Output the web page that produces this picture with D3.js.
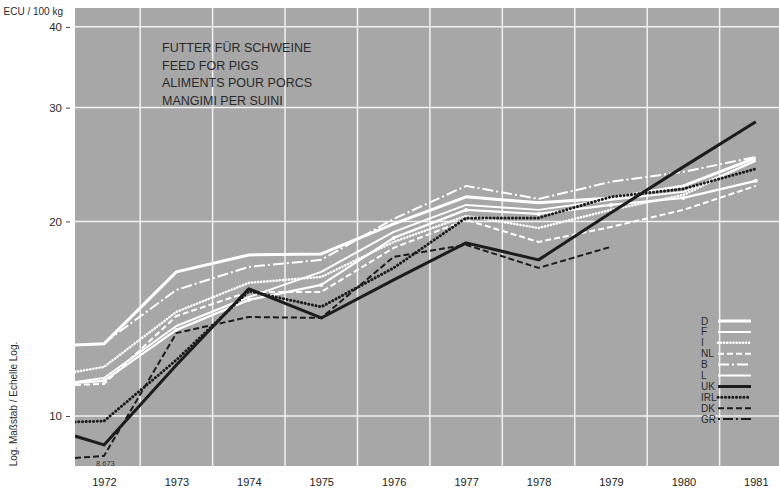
<!DOCTYPE html>
<html>
<head>
<meta charset="utf-8">
<script src="https://cdn.jsdelivr.net/npm/d3@7"></script>
<style>
  body { margin: 0; background: #fff; }
  svg { display: block; font-family: "Liberation Sans", Arial, sans-serif; }
</style>
</head>
<body>
<svg id="chart" width="779" height="494"></svg>
<script>
// ---- data ----
const years = [1971.6, 1972, 1973, 1974, 1975, 1976, 1977, 1978, 1979, 1980, 1981];
const yearLabels = [1972, 1973, 1974, 1975, 1976, 1977, 1978, 1979, 1980, 1981];
const yTicks = [10, 20, 30, 40];

const D   = [12.88, 12.93, 16.71, 17.75, 17.81, 19.83, 21.83, 21.37, 21.75, 22.70, 25.08];
const F   = [11.29, 11.45, 13.78, 15.28, 16.71, 19.27, 21.21, 20.84, 21.60, 22.22, 24.82];
const I   = [11.70, 11.91, 14.49, 16.07, 16.41, 18.59, 20.40, 19.54, 20.84, 21.98, 24.90];
const NL  = [11.17, 11.21, 14.28, 15.56, 15.56, 18.20, 20.11, 18.59, 19.61, 20.84, 22.70];
const B   = [null, 12.97, 15.67, 17.01, 17.44, 20.18, 22.70, 21.67, 23.03, 23.86, 25.17];
const L   = [11.25, 11.33, 13.59, 15.12, 15.95, 18.86, 20.84, 20.54, 21.21, 21.75, 23.11];
const UK  = [9.31, 9.02, 11.99, 15.73, 14.18, 16.24, 18.53, 17.44, 20.62, 24.29, 28.52];
const IRL = [9.79, 9.82, 12.21, 15.60, 14.75, 16.95, 20.25, 20.25, 21.83, 22.46, 24.12];
const DK  = [8.61, 8.673, 13.44, 14.23, 14.18, 17.63, 18.40, 16.95, 18.27, null, null];
const GR  = [null, null, null, null, null, null, null, null, null, null, null];

const titleLines = ["FUTTER FÜR SCHWEINE", "FEED FOR PIGS", "ALIMENTS POUR PORCS", "MANGIMI PER SUINI"];
const dkNote = "8.673";

// ---- styles ----
const series = [
  {name: "D",   values: D,   color: "#ffffff", width: 3,   dash: null,          cap: "butt"},
  {name: "F",   values: F,   color: "#ffffff", width: 2,   dash: null,          cap: "butt"},
  {name: "I",   values: I,   color: "#ffffff", width: 2.6, dash: "0.1 3",       cap: "round"},
  {name: "NL",  values: NL,  color: "#ffffff", width: 2,   dash: "6 3",         cap: "butt"},
  {name: "B",   values: B,   color: "#ffffff", width: 2,   dash: "11 3 2 3",    cap: "butt"},
  {name: "L",   values: L,   color: "#ffffff", width: 2.2, dash: null,          cap: "butt", beads: true},
  {name: "UK",  values: UK,  color: "#1c1c1c", width: 3,   dash: null,          cap: "butt"},
  {name: "IRL", values: IRL, color: "#1c1c1c", width: 3,   dash: "0.1 3.6",     cap: "round"},
  {name: "DK",  values: DK,  color: "#1c1c1c", width: 2,   dash: "6 3",         cap: "butt"},
  {name: "GR",  values: GR,  color: "#1c1c1c", width: 2,   dash: "2 3 10 3",    cap: "butt"}
];

const svg = d3.select("#chart");
const plot = {left: 75, right: 779, top: 8, bottom: 466};

const x = d3.scaleLinear().domain([1971.6, 1981.32]).range([plot.left, plot.right]);
const y = d3.scaleLog().domain([8.368, 42.78]).range([plot.bottom, plot.top]);

// background
svg.append("rect")
  .attr("x", plot.left).attr("y", plot.top)
  .attr("width", plot.right - plot.left).attr("height", plot.bottom - plot.top)
  .attr("fill", "#a7a7a7");

svg.append("clipPath").attr("id", "clip").append("rect")
  .attr("x", plot.left).attr("y", plot.top)
  .attr("width", plot.right - plot.left).attr("height", plot.bottom - plot.top);

// grid
const grid = svg.append("g");
grid.selectAll("line.h").data(yTicks).join("line")
  .attr("x1", plot.left).attr("x2", plot.right)
  .attr("y1", d => y(d)).attr("y2", d => y(d))
  .attr("stroke", "#f2f2f2").attr("stroke-width", 1.5);
grid.selectAll("line.v").data(yearLabels.slice(0, -1)).join("line")
  .attr("x1", d => x(d + 0.5)).attr("x2", d => x(d + 0.5))
  .attr("y1", plot.top).attr("y2", plot.bottom)
  .attr("stroke", "#f2f2f2").attr("stroke-width", 1.5);

// y axis
const yAxis = d3.axisLeft(y).tickValues(yTicks).tickFormat(d3.format("d")).tickSize(4).tickPadding(4);
const ya = svg.append("g").attr("transform", `translate(${plot.left - 5},0)`).call(yAxis);
ya.select(".domain").remove();
ya.selectAll(".tick line").attr("stroke", "#444").attr("stroke-width", 1);
ya.selectAll("text").attr("fill", "#2a2a2a").attr("font-size", 11.5);

// x axis labels
const xAxis = d3.axisBottom(x).tickValues(yearLabels).tickFormat(d3.format("d")).tickSize(0).tickPadding(12);
const xa = svg.append("g").attr("transform", `translate(0,${plot.bottom})`).call(xAxis);
xa.select(".domain").remove();
xa.selectAll("text").attr("fill", "#222").attr("font-size", 11);

// axis titles
svg.append("text").attr("x", 63).attr("y", 15).attr("text-anchor", "end")
  .attr("font-size", 10).attr("fill", "#2a2a2a").text("ECU / 100 kg");
svg.append("text")
  .attr("transform", "translate(17,404) rotate(-90)")
  .attr("text-anchor", "middle").attr("font-size", 10).attr("fill", "#2a2a2a")
  .text("Log. Maßstab / Echelle Log.");

// title block
svg.append("g").selectAll("text").data(titleLines).join("text")
  .attr("x", 162).attr("y", (d, i) => 52 + i * 17.7)
  .attr("font-size", 12.5).attr("fill", "#2a2a2a")
  .text(d => d);

// lines
const lineGen = d3.line()
  .defined(d => d.v != null)
  .x(d => x(d.t)).y(d => y(d.v));

const lg = svg.append("g").attr("clip-path", "url(#clip)");
series.forEach(s => {
  const pts = years.map((t, i) => ({t, v: s.values[i]}));
  lg.append("path").datum(pts)
    .attr("d", lineGen)
    .attr("fill", "none")
    .attr("stroke", s.color)
    .attr("stroke-width", s.width)
    .attr("stroke-linejoin", "round")
    .attr("stroke-linecap", s.cap)
    .attr("stroke-dasharray", s.dash);
  if (s.beads) {
    lg.selectAll(null).data(pts.filter(d => d.v != null)).join("circle")
      .attr("cx", d => x(d.t)).attr("cy", d => y(d.v)).attr("r", 2)
      .attr("fill", s.color);
  }
});

// DK 1972 note
svg.append("text").attr("x", x(1972) - 8).attr("y", y(DK[1]) + 10)
  .attr("font-size", 7.5).attr("fill", "#333").text(dkNote);

// legend
const leg = svg.append("g");
series.forEach((s, i) => {
  const ly = 321 + i * 10.9;
  leg.append("text").attr("x", 701).attr("y", ly + 3.5)
    .attr("font-size", 10).attr("fill", "#2a2a2a").text(s.name);
  leg.append("line").attr("x1", 718).attr("x2", 751).attr("y1", ly).attr("y2", ly)
    .attr("stroke", s.color).attr("stroke-width", s.width)
    .attr("stroke-linecap", s.cap).attr("stroke-dasharray", s.dash);
});
</script>
</body>
</html>
